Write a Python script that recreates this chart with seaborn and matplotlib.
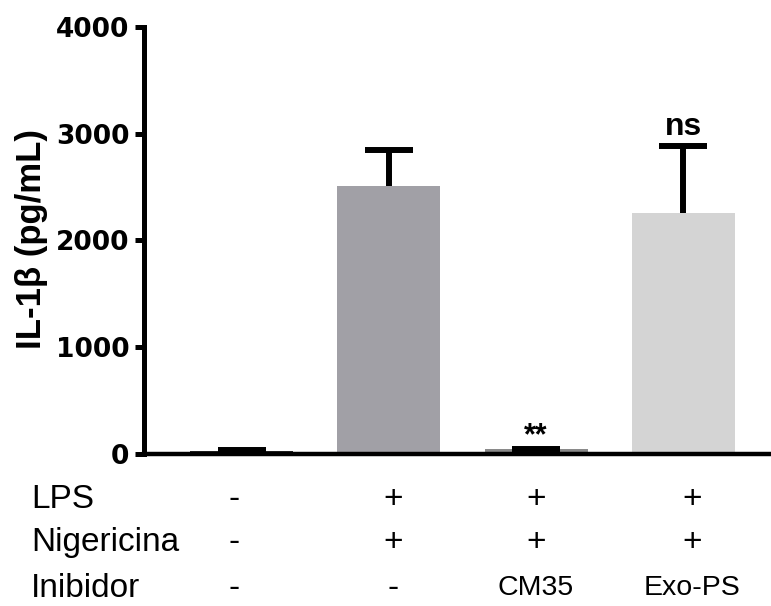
import numpy as np
import pandas as pd
import matplotlib
matplotlib.use("Agg")
import matplotlib.pyplot as plt
import matplotlib.transforms as mtransforms
import seaborn as sns

# ---- data ----
groups = ["Controle", "LPS+Nig", "CM35", "Exo-PS"]
means = [28, 2512, 42, 2260]
sd_up = [3, 330, 3, 628]
bar_colors = ["#262626", "#A1A0A6", "#8A8A8A", "#D4D4D4"]
annotations = ["", "", "**", "ns"]
yticks = [0, 1000, 2000, 3000, 4000]
row_labels = ["LPS", "Nigericina", "Inibidor"]
row_lps = ["-", "+", "+", "+"]
row_nig = ["-", "+", "+", "+"]
row_inib = ["-", "-", "CM35", "Exo-PS"]

sns.set_style("ticks")
plt.rcParams["font.family"] = ["Liberation Sans", "DejaVu Sans"]
plt.rcParams.update({"text.color": "black", "axes.edgecolor": "black",
                     "xtick.color": "black", "ytick.color": "black",
                     "axes.labelcolor": "black"})

W, H = 771, 606
fig = plt.figure(figsize=(W / 100, H / 100), dpi=100)
ax = fig.add_axes([144 / W, (H - 453.5) / H, 1 - 144 / W, (453.5 - 27) / H])

df = pd.DataFrame({"group": groups, "value": means})
sns.barplot(data=df, x="group", y="value", hue="group", palette=bar_colors,
            legend=False, width=0.7, saturation=1, errorbar=None, ax=ax,
            order=groups, hue_order=groups, linewidth=0)

x = np.arange(len(groups))
eb = ax.errorbar(x, means, yerr=[np.zeros(len(means)), sd_up], fmt="none",
                 ecolor="black", elinewidth=4.3, capsize=17, capthick=4.3,
                 zorder=5)
for cl in eb[1]:
    if np.allclose(cl.get_ydata(), means):
        cl.set_visible(False)

# significance marks
for i, lab in enumerate(annotations):
    if not lab:
        continue
    top = means[i] + sd_up[i]
    if lab == "ns":
        ax.text(i, top + 100, lab, ha="center", va="baseline", fontsize=23,
                fontweight="bold", zorder=6)
    else:
        ax.text(i, top + 45, lab, ha="center", va="baseline", fontsize=22,
                fontweight="bold", zorder=6)

ax.set_xlim(-0.662, 3.595)
ax.set_ylim(0, 4000)
ax.set_yticks(yticks)
ax.set_yticklabels([str(t) for t in yticks], fontsize=19, fontweight="bold",
                   family="DejaVu Sans")
ax.set_xticks([])
ax.set_xlabel("")
ax.set_ylabel("")
for s in ["top", "right"]:
    ax.spines[s].set_visible(False)
ax.spines["left"].set_linewidth(3.6)
ax.spines["bottom"].set_linewidth(3.2)
ax.tick_params(axis="y", length=6.5, width=3.6, pad=4, color="black")

fig.text(32 / W, 1 - 239 / H, "IL-1β (pg/mL)", rotation=90, ha="center",
         va="center", fontsize=25, fontweight="bold")

# condition table below the axis
trans = mtransforms.blended_transform_factory(ax.transData, fig.transFigure)
col_shift = [-0.05, 0.03, 0.0, 0.06]
baselines = [508, 551, 597]
rows = [row_lps, row_nig, row_inib]
for label, yb, row in zip(row_labels, baselines, rows):
    yf = 1 - yb / H
    fig.text(31 / W, yf, label, ha="left", va="baseline", fontsize=24)
    for i, val in enumerate(row):
        if val in ("+", "-"):
            ax.text(i + col_shift[i], yf, val, transform=trans, ha="center",
                    va="baseline", fontsize=24)
        else:
            ax.text(i + col_shift[i], 1 - 595 / H, val, transform=trans,
                    ha="center", va="baseline", fontsize=20.5)

fig.savefig("out.png", dpi=100)
